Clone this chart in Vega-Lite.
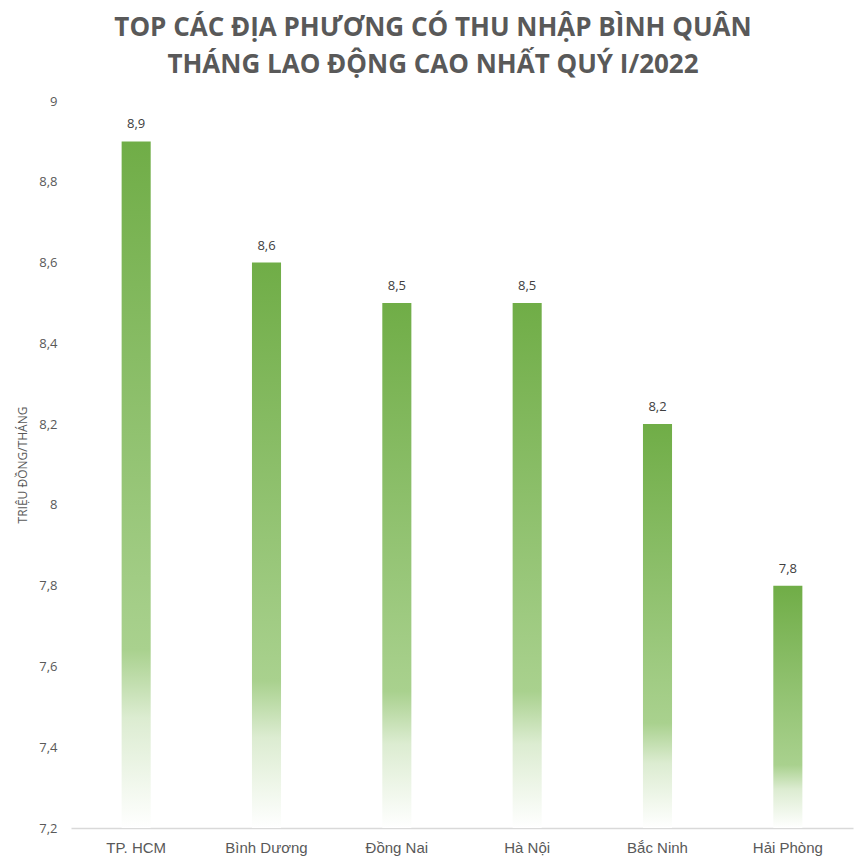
{
  "$schema": "https://vega.github.io/schema/vega-lite/v6.json",
  "autosize": {"type": "none"},
  "width": 782,
  "height": 727,
  "padding": {"left": 71, "top": 101, "right": 14, "bottom": 37},
  "background": "white",
  "title": {
    "text": ["TOP CÁC ĐỊA PHƯƠNG CÓ THU NHẬP BÌNH QUÂN", "THÁNG LAO ĐỘNG CAO NHẤT QUÝ I/2022"],
    "font": "Open Sans",
    "fontSize": 26,
    "fontWeight": "bold",
    "color": "#595959",
    "lineHeight": 37,
    "anchor": "middle",
    "dx": -29,
    "offset": 17
  },
  "data": {
    "values": [
      {"dia_phuong": "TP. HCM", "thu_nhap": 8.9},
      {"dia_phuong": "Bình Dương", "thu_nhap": 8.6},
      {"dia_phuong": "Đồng Nai", "thu_nhap": 8.5},
      {"dia_phuong": "Hà Nội", "thu_nhap": 8.5},
      {"dia_phuong": "Bắc Ninh", "thu_nhap": 8.2},
      {"dia_phuong": "Hải Phòng", "thu_nhap": 7.8}
    ]
  },
  "encoding": {
    "x": {
      "field": "dia_phuong",
      "type": "nominal",
      "sort": null,
      "title": null,
      "scale": {"paddingInner": 0.777, "paddingOuter": 0.3885},
      "axis": {
        "labelAngle": 0,
        "labelFont": "Liberation Sans",
        "labelFontSize": 15,
        "labelColor": "#595959",
        "labelPadding": 12,
        "ticks": false,
        "domainColor": "#D9D9D9",
        "domainWidth": 1.3,
        "grid": false
      }
    },
    "y": {
      "field": "thu_nhap",
      "type": "quantitative",
      "title": "TRIỆU ĐỒNG/THÁNG",
      "scale": {"domain": [7.2, 9], "zero": false, "nice": false},
      "axis": {
        "values": [7.2, 7.4, 7.6, 7.8, 8, 8.2, 8.4, 8.6, 8.8, 9],
        "labelExpr": "replace(format(datum.value, '~g'), '.', ',')",
        "labelFont": "Open Sans",
        "labelFontSize": 13,
        "labelColor": "#595959",
        "labelPadding": 14,
        "ticks": false,
        "domain": false,
        "grid": false,
        "titleFont": "Open Sans",
        "titleFontSize": 12,
        "titleFontWeight": "normal",
        "titleColor": "#595959",
        "titlePadding": 9
      }
    }
  },
  "layer": [
    {
      "mark": {
        "type": "bar",
        "color": {
          "gradient": "linear",
          "x1": 0, "y1": 0, "x2": 0, "y2": 1,
          "stops": [
            {"offset": 0, "color": "#70AD47"},
            {"offset": 0.74, "color": "#A9D18E"},
            {"offset": 0.84, "color": "#DCECD1"},
            {"offset": 1, "color": "#FFFFFF"}
          ]
        }
      },
      "encoding": {"y2": {"datum": 7.2}}
    },
    {
      "mark": {
        "type": "text",
        "font": "Open Sans",
        "fontSize": 13,
        "color": "#404040",
        "baseline": "bottom",
        "dy": -10
      },
      "encoding": {
        "text": {"field": "thu_nhap", "type": "quantitative", "format": ".1f"}
      }
    }
  ],
  "config": {
    "view": {"stroke": null},
    "locale": {"number": {"decimal": ",", "thousands": ".", "grouping": [3], "currency": ["", " ₫"]}}
  }
}
